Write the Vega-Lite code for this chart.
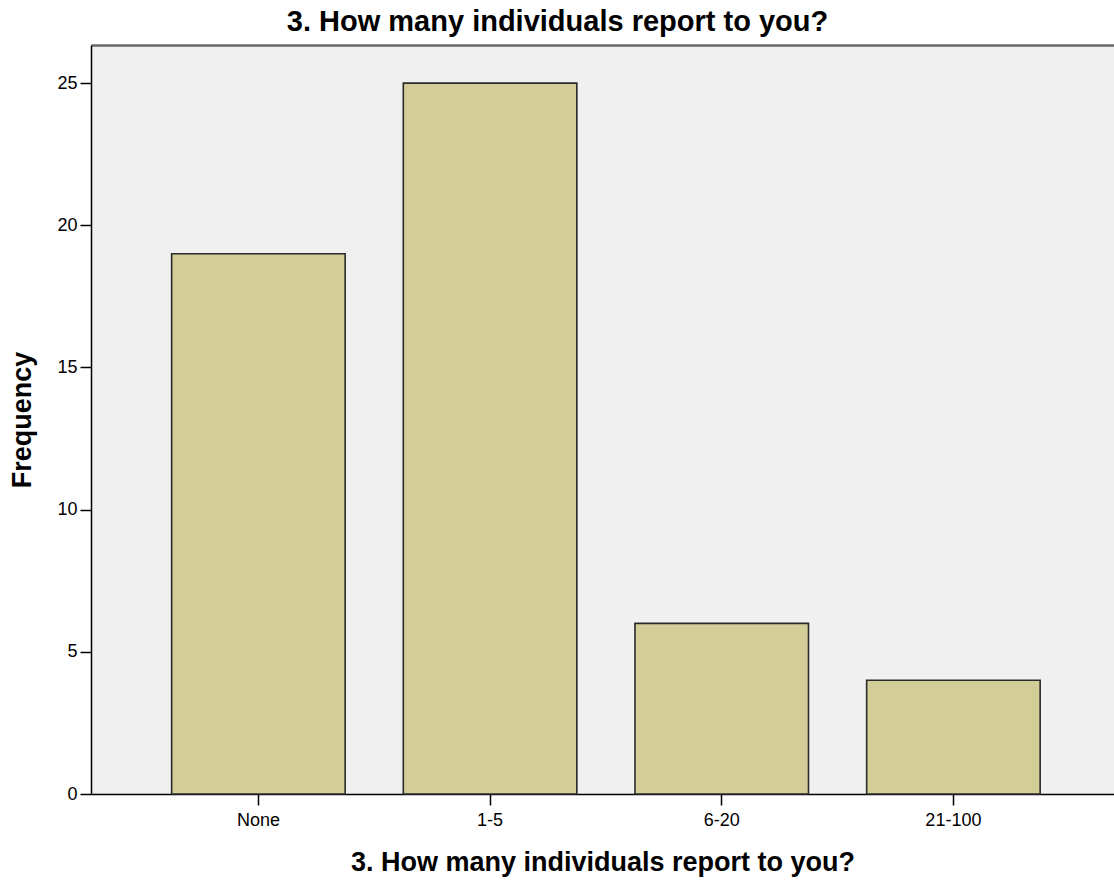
{
  "$schema": "https://vega.github.io/schema/vega-lite/v6.json",
  "width": 1023,
  "height": 749,
  "autosize": {"type": "none"},
  "padding": {"left": 91, "top": 45, "right": 0, "bottom": 87},
  "background": "white",
  "title": {
    "text": "3. How many individuals report to you?",
    "font": "Liberation Sans",
    "fontSize": 29,
    "fontWeight": "bold",
    "color": "#000000",
    "anchor": "middle",
    "frame": "group",
    "dx": -45,
    "offset": 8
  },
  "config": {
    "view": {"fill": "#f0f0f0", "stroke": null},
    "axis": {
      "labelFont": "Liberation Sans",
      "titleFont": "Liberation Sans",
      "labelColor": "#000000",
      "titleColor": "#000000",
      "domainColor": "#000000",
      "tickColor": "#000000",
      "grid": false
    }
  },
  "data": {
    "values": [
      {"category": "None", "frequency": 19},
      {"category": "1-5", "frequency": 25},
      {"category": "6-20", "frequency": 6},
      {"category": "21-100", "frequency": 4}
    ]
  },
  "resolve": {"axis": {"x": "independent"}},
  "layer": [
    {
      "mark": {"type": "bar", "fill": "#d3ce97", "stroke": "#2a2a2a", "strokeWidth": 1.6},
      "encoding": {
        "x": {
          "field": "category",
          "type": "nominal",
          "sort": ["None", "1-5", "6-20", "21-100"],
          "scale": {"paddingInner": 0.251, "paddingOuter": 0.3334, "align": 0.522},
          "axis": {
            "title": "3. How many individuals report to you?",
            "titleFontSize": 27,
            "titleFontWeight": "bold",
            "titlePadding": 20,
            "labelFontSize": 18,
            "labelAngle": 0,
            "labelPadding": 6,
            "tickSize": 11,
            "tickWidth": 1.5,
            "domainWidth": 1.5
          }
        },
        "y": {
          "field": "frequency",
          "type": "quantitative",
          "scale": {"domain": [0, 26.34], "nice": false},
          "axis": {
            "title": "Frequency",
            "titleFontSize": 27,
            "titleFontWeight": "bold",
            "titlePadding": 20,
            "values": [0, 5, 10, 15, 20, 25],
            "labelFontSize": 18,
            "labelPadding": 3,
            "tickSize": 11,
            "tickWidth": 1.5,
            "domainWidth": 1.5
          }
        }
      }
    },
    {
      "mark": {"type": "rule", "opacity": 0},
      "encoding": {
        "x": {
          "field": "category",
          "type": "nominal",
          "sort": ["None", "1-5", "6-20", "21-100"],
          "axis": {
            "orient": "top",
            "title": null,
            "labels": false,
            "ticks": false,
            "domainColor": "#666666",
            "domainWidth": 2.5
          }
        }
      }
    }
  ]
}
